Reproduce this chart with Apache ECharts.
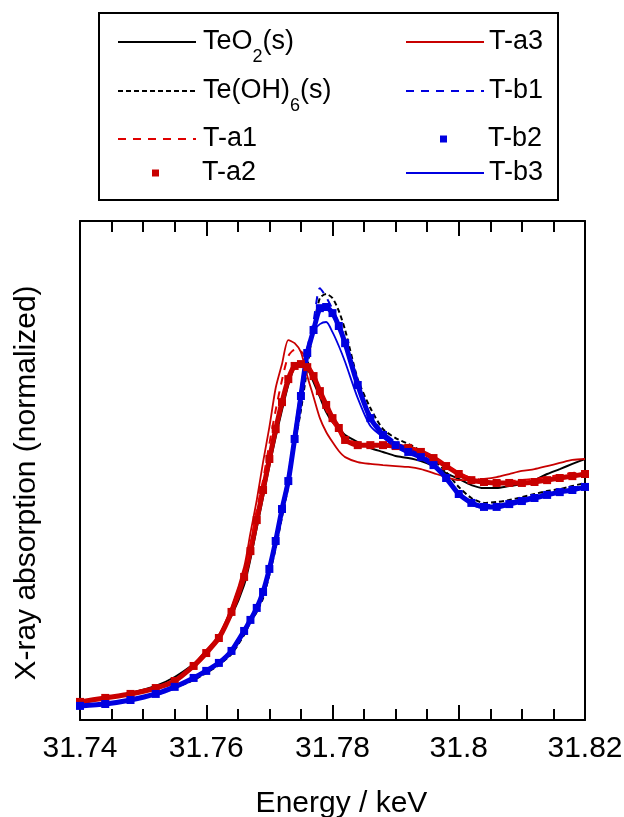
<!DOCTYPE html>
<html>
<head>
<meta charset="utf-8">
<script src="https://cdn.jsdelivr.net/npm/echarts@6/dist/echarts.min.js"></script>
<style>
  html, body { margin: 0; padding: 0; background: #fff; }
  #chart { width: 624px; height: 817px; }
</style>
</head>
<body>
<div id="chart"></div>
<script>
// energy grid (keV), shared by all spectra
var energy = [31.740, 31.744, 31.748, 31.752, 31.755, 31.758, 31.760, 31.762, 31.764, 31.766,
  31.767, 31.768, 31.769, 31.770, 31.771, 31.772, 31.773, 31.774, 31.775, 31.776,
  31.777, 31.778, 31.779, 31.780, 31.781, 31.782, 31.784, 31.786, 31.788, 31.790,
  31.792, 31.794, 31.796, 31.798, 31.800, 31.802, 31.804, 31.806, 31.808, 31.810,
  31.812, 31.814, 31.816, 31.818, 31.820];

// normalized absorption
var teo2 = [0.013, 0.030, 0.051, 0.081, 0.119, 0.174, 0.221, 0.294, 0.379, 0.511,
  0.621, 0.753, 0.885, 1.017, 1.140, 1.255, 1.362, 1.438, 1.460, 1.434,
  1.374, 1.311, 1.247, 1.204, 1.179, 1.149, 1.119, 1.094, 1.077, 1.060,
  1.051, 1.038, 1.017, 0.987, 0.962, 0.936, 0.923, 0.923, 0.932, 0.940,
  0.957, 0.983, 1.004, 1.026, 1.047];
var teoh6 = [-0.004, 0.004, 0.021, 0.043, 0.072, 0.106, 0.136, 0.170, 0.217, 0.298,
  0.353, 0.396, 0.455, 0.553, 0.668, 0.800, 0.932, 1.106, 1.255, 1.434,
  1.609, 1.732, 1.749, 1.732, 1.677, 1.596, 1.387, 1.264, 1.174, 1.136,
  1.111, 1.081, 1.043, 0.991, 0.928, 0.881, 0.860, 0.864, 0.872, 0.885,
  0.898, 0.911, 0.919, 0.932, 0.945];
var ta1 = [0.013, 0.030, 0.051, 0.077, 0.106, 0.170, 0.230, 0.294, 0.409, 0.570,
  0.681, 0.830, 0.957, 1.111, 1.255, 1.383, 1.485, 1.511, 1.506, 1.468,
  1.396, 1.319, 1.255, 1.204, 1.166, 1.136, 1.115, 1.111, 1.111, 1.106,
  1.098, 1.081, 1.055, 1.021, 0.987, 0.966, 0.957, 0.953, 0.953, 0.957,
  0.962, 0.970, 0.979, 0.987, 0.996];
var ta2 = [0.013, 0.030, 0.047, 0.072, 0.102, 0.166, 0.221, 0.285, 0.396, 0.545,
  0.655, 0.787, 0.915, 1.047, 1.174, 1.289, 1.387, 1.443, 1.451, 1.438,
  1.400, 1.336, 1.277, 1.221, 1.179, 1.128, 1.106, 1.106, 1.106, 1.102,
  1.094, 1.077, 1.051, 1.017, 0.983, 0.957, 0.949, 0.945, 0.945, 0.945,
  0.949, 0.957, 0.966, 0.974, 0.983];
var ta3 = [0.013, 0.030, 0.051, 0.077, 0.106, 0.174, 0.234, 0.298, 0.417, 0.587,
  0.732, 0.872, 1.034, 1.183, 1.349, 1.451, 1.553, 1.540, 1.502, 1.400,
  1.311, 1.221, 1.162, 1.119, 1.081, 1.055, 1.034, 1.026, 1.021, 1.017,
  1.013, 1.004, 0.987, 0.970, 0.957, 0.957, 0.962, 0.970, 0.983, 0.996,
  1.004, 1.017, 1.030, 1.043, 1.047];
var tb1 = [-0.004, 0.004, 0.021, 0.047, 0.077, 0.115, 0.145, 0.179, 0.230, 0.311,
  0.357, 0.409, 0.477, 0.574, 0.694, 0.834, 0.957, 1.140, 1.332, 1.515,
  1.634, 1.774, 1.736, 1.685, 1.626, 1.557, 1.374, 1.234, 1.162, 1.119,
  1.089, 1.064, 1.030, 0.970, 0.906, 0.868, 0.851, 0.851, 0.864, 0.877,
  0.889, 0.902, 0.915, 0.923, 0.936];
var tb2 = [-0.004, 0.004, 0.021, 0.047, 0.077, 0.115, 0.145, 0.179, 0.230, 0.315,
  0.362, 0.413, 0.481, 0.579, 0.698, 0.834, 0.953, 1.132, 1.315, 1.498,
  1.596, 1.689, 1.694, 1.668, 1.613, 1.540, 1.362, 1.221, 1.149, 1.106,
  1.077, 1.055, 1.021, 0.966, 0.898, 0.860, 0.843, 0.843, 0.855, 0.868,
  0.881, 0.894, 0.906, 0.915, 0.928];
var tb3 = [-0.004, 0.004, 0.021, 0.047, 0.077, 0.115, 0.145, 0.183, 0.234, 0.319,
  0.366, 0.417, 0.485, 0.591, 0.711, 0.847, 0.979, 1.162, 1.349, 1.511,
  1.591, 1.621, 1.630, 1.587, 1.528, 1.460, 1.306, 1.187, 1.140, 1.106,
  1.081, 1.055, 1.021, 0.962, 0.898, 0.855, 0.838, 0.843, 0.855, 0.868,
  0.881, 0.894, 0.906, 0.915, 0.928];

var xTicks = [31.74, 31.76, 31.78, 31.8, 31.82];

var RED = '#c80000';
var BLUE = '#0000e0';
var FONT = 'Liberation Sans, Arial, sans-serif';

function pts(arr) {
  return energy.map(function (e, i) { return [e, arr[i]]; });
}

function lineSeries(name, arr, color, type, width) {
  return {
    name: name, type: 'line', data: pts(arr), symbol: 'none', smooth: 0.25,
    lineStyle: { color: color, width: width, type: type },
    itemStyle: { color: color },
    emphasis: { disabled: true }
  };
}

function squareSeries(name, arr, color) {
  return {
    name: name, type: 'line', data: pts(arr), symbol: 'rect', symbolSize: 8,
    showAllSymbol: true, smooth: 0.2,
    lineStyle: { color: color, width: 5 },
    itemStyle: { color: color },
    emphasis: { disabled: true }
  };
}

// one legend box per entry, placed like the original two-column key
function legendAt(name, left, top, square, pad, tall) {
  var l = {
    data: [name], left: left, top: top, padding: 0,
    itemWidth: square ? 7 : 78, itemHeight: square ? 7 : 14,
    selectedMode: false,
    textStyle: {
      fontSize: 27, fontFamily: FONT, color: '#000', lineHeight: tall ? 48 : 28,
      padding: [0, 0, 0, pad || 0],
      rich: { sub: { fontSize: 18, fontFamily: FONT, color: '#000', lineHeight: 2, verticalAlign: 'bottom' } }
    },
    formatter: function (n) {
      if (n === 'TeO2(s)') return 'TeO{sub|2}(s)';
      if (n === 'Te(OH)6(s)') return 'Te(OH){sub|6}(s)';
      return n;
    }
  };
  if (square) l.icon = 'rect';
  else l.itemStyle = { opacity: 0 };
  return l;
}

var chart = echarts.init(document.getElementById('chart'), null, { renderer: 'canvas' });

var xBase = {
  type: 'value', min: 31.74, max: 31.82, interval: 0.02,
  axisLine: { show: true, onZero: false, lineStyle: { color: '#000', width: 2 } },
  axisTick: { show: true, inside: true, length: 15, lineStyle: { color: '#000', width: 2 } },
  minorTick: { show: true, splitNumber: 4, length: 11, lineStyle: { color: '#000', width: 2 } },
  splitLine: { show: false }
};

chart.setOption({
  animation: false,
  backgroundColor: '#fff',
  grid: { left: 80, right: 39, top: 221, bottom: 97, containLabel: false, outerBoundsMode: 'none' },
  graphic: [{
    type: 'rect', shape: { x: 99, y: 13, width: 459, height: 187 },
    style: { fill: 'none', stroke: '#000', lineWidth: 2 }
  }],
  legend: [
    legendAt('TeO2(s)', 117, 18, false, 2, true),
    legendAt('Te(OH)6(s)', 117, 67, false, 2, true),
    legendAt('T-a1', 117, 125, false, 2),
    legendAt('T-a2', 152, 159, true, 38),
    legendAt('T-a3', 405, 28, false, 0),
    legendAt('T-b1', 405, 77, false, 0),
    legendAt('T-b2', 440, 125, true, 36),
    legendAt('T-b3', 405, 159, false, 0)
  ],
  xAxis: [
    Object.assign({}, xBase, {
      position: 'bottom',
      name: 'Energy / keV', nameLocation: 'middle', nameGap: 69,
      nameTextStyle: { fontSize: 30, fontFamily: FONT, color: '#000', padding: [0, 0, 0, 18] },
      axisLabel: {
        fontSize: 30, fontFamily: FONT, color: '#000', margin: 14,
        formatter: function (v) {
          var hit = xTicks.filter(function (t) { return Math.abs(t - v) < 1e-6; });
          return hit.length ? String(hit[0]) : '';
        }
      }
    }),
    Object.assign({}, xBase, { position: 'top', axisLabel: { show: false } })
  ],
  yAxis: [
    {
      type: 'value', min: -0.064, max: 2.06, position: 'left',
      name: 'X-ray absorption (normalized)', nameLocation: 'middle', nameGap: 38,
      nameTextStyle: { fontSize: 30, fontFamily: FONT, color: '#000', padding: [0, 25, 0, 0] },
      axisLine: { show: true, onZero: false, lineStyle: { color: '#000', width: 2 } },
      axisTick: { show: false }, axisLabel: { show: false }, splitLine: { show: false }
    },
    {
      type: 'value', min: -0.064, max: 2.06, position: 'right',
      axisLine: { show: true, onZero: false, lineStyle: { color: '#000', width: 2 } },
      axisTick: { show: false }, axisLabel: { show: false }, splitLine: { show: false }
    }
  ],
  series: [
    lineSeries('TeO2(s)', teo2, '#000', 'solid', 2),
    lineSeries('Te(OH)6(s)', teoh6, '#000', [5, 3], 2),
    squareSeries('T-a2', ta2, RED),
    lineSeries('T-a1', ta1, '#e00000', [8, 7], 2),
    lineSeries('T-a3', ta3, RED, 'solid', 1.8),
    squareSeries('T-b2', tb2, BLUE),
    lineSeries('T-b1', tb1, BLUE, [8, 7], 2),
    lineSeries('T-b3', tb3, BLUE, 'solid', 1.8)
  ]
});
</script>
</body>
</html>
